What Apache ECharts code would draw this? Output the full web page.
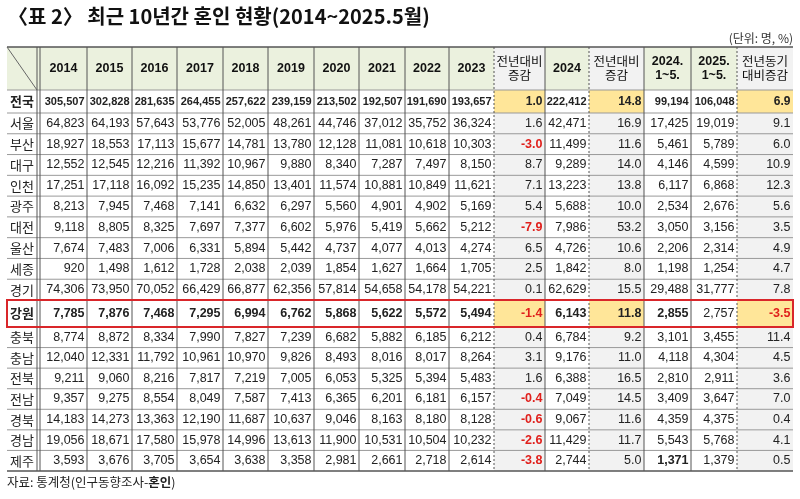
<!DOCTYPE html>
<html><head><meta charset="utf-8">
<script src="https://cdn.jsdelivr.net/npm/echarts@6/dist/echarts.min.js"></script>
<style>html,body{margin:0;padding:0;background:#fff}#c{width:800px;height:499px}</style>
</head><body><div id="c"></div>
<script>
const headers = ['2014','2015','2016','2017','2018','2019','2020','2021','2022','2023','전년대비\n증감','2024','전년대비\n증감','2024.\n1~5.','2025.\n1~5.','전년동기\n대비증감'];
const regions = ['전국','서울','부산','대구','인천','광주','대전','울산','세종','경기','강원','충북','충남','전북','전남','경북','경남','제주'];
const v2014 = [305507,64823,18927,12552,17251,8213,9118,7674,920,74306,7785,8774,12040,9211,9357,14183,19056,3593];
const v2015 = [302828,64193,18553,12545,17118,7945,8805,7483,1498,73950,7876,8872,12331,9060,9275,14273,18671,3676];
const v2016 = [281635,57643,17113,12216,16092,7468,8325,7006,1612,70052,7468,8334,11792,8216,8554,13363,17580,3705];
const v2017 = [264455,53776,15677,11392,15235,7141,7697,6331,1728,66429,7295,7990,10961,7817,8049,12190,15978,3654];
const v2018 = [257622,52005,14781,10967,14850,6632,7377,5894,2038,66877,6994,7827,10970,7219,7587,11687,14996,3638];
const v2019 = [239159,48261,13780,9880,13401,6297,6602,5442,2039,62356,6762,7239,9826,7005,7413,10637,13613,3358];
const v2020 = [213502,44746,12128,8340,11574,5560,5976,4737,1854,57814,5868,6682,8493,6053,6365,9046,11900,2981];
const v2021 = [192507,37012,11081,7287,10881,4901,5419,4077,1627,54658,5622,5882,8016,5325,6201,8163,10531,2661];
const v2022 = [191690,35752,10618,7497,10849,4902,5662,4013,1664,54178,5572,6185,8017,5394,6181,8180,10504,2718];
const v2023 = [193657,36324,10303,8150,11621,5169,5212,4274,1705,54221,5494,6212,8264,5483,6157,8128,10232,2614];
const chg2023 = [1.0,1.6,-3.0,8.7,7.1,5.4,-7.9,6.5,2.5,0.1,-1.4,0.4,3.1,1.6,-0.4,-0.6,-2.6,-3.8];
const v2024 = [222412,42471,11499,9289,13223,5688,7986,4726,1842,62629,6143,6784,9176,6388,7049,9067,11429,2744];
const chg2024 = [14.8,16.9,11.6,14.0,13.8,10.0,53.2,10.6,8.0,15.5,11.8,9.2,11.0,16.5,14.5,11.6,11.7,5.0];
const jm2024 = [99194,17425,5461,4146,6117,2534,3050,2206,1198,29488,2855,3101,4118,2810,3409,4359,5543,1371];
const jm2025 = [106048,19019,5789,4599,6868,2676,3156,2314,1254,31777,2757,3455,4304,2911,3647,4375,5768,1379];
const chgYoY = [6.9,9.1,6.0,10.9,12.3,5.6,3.5,4.9,4.7,7.8,-3.5,11.4,4.5,3.6,7.0,0.4,4.1,0.5];
const title = '〈표 2〉 최근 10년간 혼인 현황(2014~2025.5월)';
const unit = '(단위: 명, %)';

const cols = [v2014,v2015,v2016,v2017,v2018,v2019,v2020,v2021,v2022,v2023,chg2023,v2024,chg2024,jm2024,jm2025,chgYoY];
const isChg = [0,0,0,0,0,0,0,0,0,0,1,0,1,0,0,1];
const xs = [7,40,87,132,177,223,268,314,359,405,449,494,545,589,644,691,737,793];
const ys = [47,90,113];
for(let i=0;i<9;i++) ys.push(113+(300-113)*(i+1)/9);
ys.push(327);
for(let i=0;i<7;i++) ys.push(327+(471-327)*(i+1)/7);

const F = 'Liberation Sans, Arial, "Noto Sans CJK KR", sans-serif';
const K = '"Noto Sans CJK KR", sans-serif';
const el = [];
const fmt = (v,c)=> isChg[c] ? v.toFixed(1) : v.toLocaleString('en-US');
el.push({type:'rect',shape:{x:xs[0],y:ys[0],width:xs[17]-xs[0],height:ys[1]-ys[0]},style:{fill:'#ebf1de'}});
for(let c=0;c<16;c++){
  if(isChg[c]){
    el.push({type:'rect',shape:{x:xs[c+1],y:ys[0],width:xs[c+2]-xs[c+1],height:ys[19]-ys[0]},style:{fill:'#f2f2f2'}});
  }
}
[0,10].forEach(r=>{
  for(let c=0;c<16;c++) if(isChg[c])
    el.push({type:'rect',shape:{x:xs[c+1],y:ys[r+1],width:xs[c+2]-xs[c+1],height:ys[r+2]-ys[r+1]},style:{fill:'#ffe699'}});
});
for(let r=0;r<ys.length;r++){
  el.push({type:'line',shape:{x1:xs[0],y1:ys[r],x2:xs[17],y2:ys[r]},style:{stroke:(r==0||r==ys.length-1)?'#555':'#999',lineWidth:(r==0||r==ys.length-1)?1.5:1}});
}
for(let i=1;i<xs.length-1;i++){
  el.push({type:'line',shape:{x1:xs[i],y1:ys[0],x2:xs[i],y2:ys[19]},style:{stroke:'#555',lineWidth:1,lineDash:isChg[i-1]?[2,2]:null}});
}
el.push({type:'line',shape:{x1:xs[1]-3,y1:ys[0],x2:xs[1]-3,y2:ys[19]},style:{stroke:'#555',lineWidth:1}});
el.push({type:'line',shape:{x1:xs[0],y1:ys[0],x2:xs[1]-3,y2:ys[1]},style:{stroke:'#666',lineWidth:1}});
for(let c=0;c<16;c++){
  const cx=(xs[c+1]+xs[c+2])/2, cy=(ys[0]+ys[1])/2;
  const chg = headers[c].indexOf('증감')>=0;
  el.push({type:'text',x:cx,y:cy,style:{text:headers[c],fill:'#111',font:(chg?'normal 12.5px ':'bold 12.5px ')+(chg?K:F),align:'center',verticalAlign:'middle',lineHeight:14}});
}
for(let r=0;r<regions.length;r++){
  const cy=(ys[r+1]+ys[r+2])/2;
  const boldRow = r==0||r==10;
  el.push({type:'text',x:(xs[0]+xs[1]-3)/2,y:cy,style:{text:regions[r],fill:'#222',font:(boldRow?'bold ':'')+'13px '+K,align:'center',verticalAlign:'middle'}});
  for(let c=0;c<16;c++){
    const v=cols[c][r];
    let bold = boldRow && !(r==10&&c==14);
    if(r==17&&c==13) bold=true;
    let fill='#222';
    if(isChg[c]&&v<0){fill='#e0201c'; bold=true;}
    const sz = r==0 ? (isChg[c]?'12px ':'11px ') : '12.5px ';
    el.push({type:'text',x:xs[c+2]-2.5,y:cy,style:{text:fmt(v,c),fill:fill,font:(bold?'bold ':'')+sz+F,align:'right',verticalAlign:'middle'}});
  }
}
el.push({type:'rect',shape:{x:xs[0],y:ys[11],width:xs[17]-xs[0],height:ys[12]-ys[11]},style:{fill:'none',stroke:'#d9262a',lineWidth:2}});
el.push({type:'text',x:8,y:16,style:{text:title,fill:'#111',font:'bold 20px '+K,verticalAlign:'middle'}});
el.push({type:'text',x:793,y:38,style:{text:unit,fill:'#333',font:'12px '+K,align:'right',verticalAlign:'middle'}});
el.push({type:'text',x:7,y:482,style:{text:'{a|자료: 통계청(인구동향조사-}{b|혼인}{a|)}',rich:{a:{font:'12.5px '+K,fill:'#222'},b:{font:'bold 12.5px '+K,fill:'#222'}},verticalAlign:'middle'}});

const chart = echarts.init(document.getElementById('c'));
chart.setOption({animation:false,graphic:{elements:el}});
</script></body></html>
